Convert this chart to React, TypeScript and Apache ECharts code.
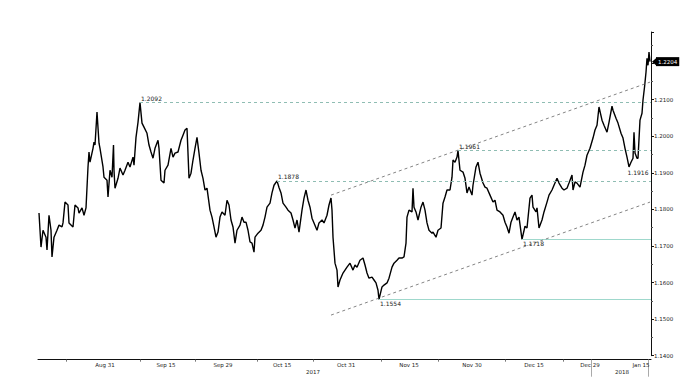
import React, { useEffect, useRef } from 'react';
import * as echarts from 'echarts';

// x unit: 6-hour trading periods since 14 Aug 2017; y: EUR/USD
const eurusd: [number, number][] = [
  [1, 1.1790], [3, 1.1697], [5, 1.1743], [8, 1.1724], [9, 1.1689], [11, 1.1784], [13, 1.1743], [14, 1.1670],
  [16, 1.1724], [19, 1.1743], [21, 1.1757], [24, 1.1752], [25, 1.1763], [27, 1.1820], [30, 1.1812], [31, 1.1763],
  [35, 1.1752], [37, 1.1812], [40, 1.1804], [41, 1.1790], [44, 1.1804], [46, 1.1784], [48, 1.1804], [50, 1.1916],
  [51, 1.1957], [52, 1.1929], [55, 1.1967], [56, 1.1984], [57, 1.1976], [59, 1.2066], [61, 1.1981], [62, 1.1967],
  [65, 1.1916], [66, 1.1888], [69, 1.1880], [70, 1.1834], [72, 1.1907], [74, 1.1888], [75.5, 1.1976], [76, 1.1907],
  [77, 1.1858], [80, 1.1885], [82, 1.1913], [85, 1.1894], [87, 1.1907], [90, 1.1929], [92, 1.1916], [95, 1.1943],
  [96, 1.1921], [98, 1.1997], [100, 1.2038], [102, 1.2092], [104, 1.2036], [106, 1.2025], [109, 1.2008], [111, 1.1976],
  [113, 1.1957], [115, 1.1940], [117, 1.1967], [120, 1.1989], [121, 1.1967], [123, 1.1880], [126, 1.1872], [127, 1.1907],
  [130, 1.1921], [133, 1.1967], [135, 1.1943], [137, 1.1954], [140, 1.1957], [143, 1.1989], [145, 1.2003], [147, 1.2017],
  [149, 1.2022], [151, 1.1885], [153, 1.1899], [155, 1.1935], [157, 1.1967], [159, 1.1997], [161, 1.1954], [163, 1.1907],
  [165, 1.1885], [167, 1.1853], [169, 1.1858], [172, 1.1798], [174, 1.1779], [176, 1.1752], [178, 1.1724], [180, 1.1738],
  [182, 1.1779], [184, 1.1793], [187, 1.1784], [189, 1.1825], [191, 1.1812], [193, 1.1771], [195, 1.1752], [197, 1.1708],
  [199, 1.1743], [202, 1.1757], [204, 1.1779], [206, 1.1765], [208, 1.1765], [210, 1.1743], [212, 1.1711], [214, 1.1708],
  [216, 1.1683], [217, 1.1724], [220, 1.1735], [223, 1.1743], [225, 1.1757], [227, 1.1779], [229, 1.1806], [232, 1.1817],
  [234, 1.1845], [236, 1.1866], [239, 1.1878], [241, 1.1860], [243, 1.1845], [245, 1.1817], [248, 1.1806], [250, 1.1798],
  [253, 1.1790], [255, 1.1771], [257, 1.1749], [259, 1.1771], [261, 1.1738], [264, 1.1798], [266, 1.1831], [268, 1.1853],
  [270, 1.1825], [272, 1.1806], [274, 1.1776], [276, 1.1763], [279, 1.1743], [281, 1.1763], [284, 1.1771], [286, 1.1763],
  [289, 1.1784], [291, 1.1812], [293, 1.1831], [294, 1.1798], [295, 1.1724], [297, 1.1653], [299, 1.1634], [300, 1.1588],
  [302, 1.1607], [305, 1.1626], [307, 1.1634], [309, 1.1642], [312, 1.1653], [315, 1.1634], [317, 1.1648], [319, 1.1642],
  [322, 1.1661], [325, 1.1667], [327, 1.1648], [329, 1.1626], [331, 1.1612], [334, 1.1615], [336, 1.1607], [338, 1.1599],
  [340, 1.1579], [341, 1.1554], [344, 1.1588], [346, 1.1593], [349, 1.1599], [351, 1.1612], [354, 1.1642], [356, 1.1653],
  [359, 1.1661], [361, 1.1667], [364, 1.1667], [366, 1.1670], [368, 1.1708], [369, 1.1779], [371, 1.1798], [374, 1.1793],
  [375, 1.1858], [376, 1.1806], [378, 1.1793], [380, 1.1771], [383, 1.1806], [385, 1.1820], [387, 1.1798], [389, 1.1763],
  [391, 1.1743], [394, 1.1735], [395, 1.1738], [398, 1.1724], [400, 1.1743], [403, 1.1749], [405, 1.1817], [407, 1.1834],
  [409, 1.1853], [412, 1.1853], [414, 1.1888], [415, 1.1935], [417, 1.1929], [419, 1.1943], [420, 1.1961], [422, 1.1907],
  [425, 1.1902], [427, 1.1885], [429, 1.1845], [431, 1.1861], [434, 1.1839], [435, 1.1866], [438, 1.1916], [440, 1.1929],
  [442, 1.1899], [445, 1.1872], [447, 1.1861], [449, 1.1858], [452, 1.1839], [455, 1.1820], [457, 1.1825], [459, 1.1798],
  [462, 1.1793], [465, 1.1784], [467, 1.1765], [469, 1.1752], [471, 1.1735], [473, 1.1765], [475, 1.1779], [477, 1.1793],
  [479, 1.1771], [481, 1.1779], [484, 1.1718], [487, 1.1754], [489, 1.1749], [492, 1.1831], [494, 1.1839], [495, 1.1806],
  [498, 1.1793], [499, 1.1804], [501, 1.1749], [504, 1.1771], [506, 1.1793], [509, 1.1820], [511, 1.1839], [514, 1.1853],
  [516, 1.1866], [519, 1.1885], [521, 1.1872], [524, 1.1858], [526, 1.1853], [529, 1.1858], [531, 1.1872], [534, 1.1894],
  [535, 1.1853], [537, 1.1875], [539, 1.1872], [542, 1.1861], [545, 1.1902], [547, 1.1921], [549, 1.1948], [552, 1.1967],
  [555, 1.1995], [557, 1.2017], [559, 1.2030], [561, 1.2080], [564, 1.2044], [566, 1.2030], [569, 1.2011], [571, 1.2038],
  [574, 1.2082], [575, 1.2071], [578, 1.2049], [580, 1.2036], [583, 1.2008], [585, 1.1995], [587, 1.1967], [589, 1.1943],
  [591, 1.1916], [593, 1.1929], [595, 1.1940], [596, 1.2011], [597, 1.1954], [599, 1.1940], [600, 1.1940], [602, 1.2044],
  [604, 1.2063], [605, 1.2099], [606.5, 1.2134], [608, 1.2175], [609, 1.2213], [610, 1.2194], [611, 1.2230], [612, 1.2204],
];

const xMax = 613;
const xTickPos = [67, 128, 185, 244, 308, 371, 434, 496, 552, 603];
const xTickLabels = ['Aug 31', 'Sep 15', 'Sep 29', 'Oct 15', 'Oct 31', 'Nov 15', 'Nov 30', 'Dec 15', 'Dec 29', 'Jan 15'];
const xMinorTicks = [28, 102, 157, 219, 275, 343, 400, 467, 525, 610];
const yearPos = [275, 584];
const yearLabels = ['2017', '2018'];
const yearBreaks = [553, 610];

const yMin = 1.14;
const yMax = 1.2285;
const yStep = 0.01;

const resistanceValues = [1.2092, 1.1961, 1.1878];
const resistanceStart = [102, 420, 239];
const supportValues = [1.1718, 1.1554];
const supportStart = [484, 341];
const channelUpper: [number, number][] = [[293, 1.1839], [612, 1.2148]];
const channelLower: [number, number][] = [[293, 1.1511], [612, 1.1820]];
const swingLow: [number, number] = [600, 1.1916];
const lastValue = 1.2204;

const FONT = 'DejaVu Sans';

export default function App() {
  const ref = useRef<HTMLDivElement>(null);
  useEffect(() => {
    document.body.style.margin = '0';
    if (!ref.current) return;
    const chart = echarts.init(ref.current, undefined, { renderer: 'svg' });
    const annLabel = { fontFamily: FONT, fontSize: 6, color: '#222' };
    const markLines: any[] = [];
    resistanceValues.forEach((v, i) => {
      markLines.push([
        {
          coord: [resistanceStart[i], v],
          lineStyle: { color: '#8fbdb3', type: [3, 3], width: 1 },
          label: { show: true, position: 'insideStartTop', distance: 1, formatter: v.toFixed(4), ...annLabel },
        },
        { coord: [xMax, v] },
      ]);
    });
    supportValues.forEach((v, i) => {
      markLines.push([
        {
          coord: [supportStart[i], v],
          lineStyle: { color: '#9fd8cc', type: 'solid', width: 1 },
          label: { show: true, position: 'insideStartBottom', distance: 1, formatter: v.toFixed(4), ...annLabel },
        },
        { coord: [xMax, v] },
      ]);
    });
    [channelUpper, channelLower].forEach((ch) => {
      markLines.push([
        { coord: ch[0], lineStyle: { color: '#666', type: [3, 3], width: 0.8 }, label: { show: false } },
        { coord: ch[1] },
      ]);
    });

    chart.setOption({
      animation: false,
      grid: { left: 38, right: 38, top: 32, bottom: 384 - 355.7 },
      xAxis: [
        {
          type: 'value',
          min: 0,
          max: xMax,
          offset: 4,
          splitLine: { show: false },
          axisLine: { onZero: false, lineStyle: { color: '#111', width: 1 } },
          axisTick: { show: true, customValues: xMinorTicks, length: 2, lineStyle: { color: '#777' } },
          axisLabel: {
            customValues: xTickPos,
            formatter: (v: number) => {
              const i = xTickPos.indexOf(Math.round(v));
              return i >= 0 ? xTickLabels[i] : '';
            },
            fontFamily: FONT,
            fontSize: 5.5,
            color: '#222',
            margin: 2,
          },
        },
        {
          type: 'value',
          min: 0,
          max: xMax,
          position: 'bottom',
          offset: 4,
          splitLine: { show: false },
          axisLine: { show: false, onZero: false },
          axisTick: { show: true, customValues: yearBreaks, length: 17, lineStyle: { color: '#aaa' } },
          axisLabel: {
            customValues: yearPos,
            formatter: (v: number) => {
              const i = yearPos.indexOf(Math.round(v));
              return i >= 0 ? yearLabels[i] : '';
            },
            fontFamily: FONT,
            fontSize: 5.5,
            color: '#222',
            margin: 9,
          },
        },
      ],
      yAxis: {
        type: 'value',
        position: 'right',
        min: yMin,
        max: yMax,
        interval: yStep,
        splitLine: { show: false },
        axisLine: { show: true, onZero: false, lineStyle: { color: '#111', width: 1 } },
        axisTick: { show: true, length: 3, lineStyle: { color: '#111' } },
        minorTick: { show: true, splitNumber: 2, length: 2, lineStyle: { color: '#555' } },
        axisLabel: {
          formatter: (v: number) => {
            const k = Math.round((v - yMin) / yStep);
            const onGrid = Math.abs(v - (yMin + k * yStep)) < 1e-6;
            const hiddenByTag = Math.abs(v - lastValue) < 0.002;
            return onGrid && !hiddenByTag ? v.toFixed(4) : '';
          },
          fontFamily: FONT,
          fontSize: 5.5,
          color: '#222',
          margin: 3,
        },
      },
      series: [
        {
          type: 'line',
          data: eurusd,
          showSymbol: false,
          clip: false,
          lineStyle: { color: '#000', width: 1.4 },
          markLine: { silent: true, symbol: ['none', 'none'], animation: false, data: markLines },
          markPoint: {
            silent: true,
            animation: false,
            data: [
              {
                coord: swingLow,
                symbol: 'circle',
                symbolSize: 0,
                label: { show: true, position: 'bottom', distance: 3, formatter: swingLow[1].toFixed(4), ...annLabel },
              },
              {
                coord: [xMax, lastValue],
                symbol: 'triangle',
                symbolRotate: 90,
                symbolSize: [7, 4],
                symbolOffset: [3, 0],
                itemStyle: { color: '#000' },
                label: {
                  show: true,
                  position: 'right',
                  distance: 0,
                  formatter: lastValue.toFixed(4),
                  backgroundColor: '#000',
                  color: '#fff',
                  padding: [2, 2, 1, 2],
                  fontFamily: FONT,
                  fontSize: 5.5,
                },
              },
            ],
          },
        },
      ],
    });
    return () => chart.dispose();
  }, []);
  return <div ref={ref} style={{ width: 689, height: 384 }} />;
}
